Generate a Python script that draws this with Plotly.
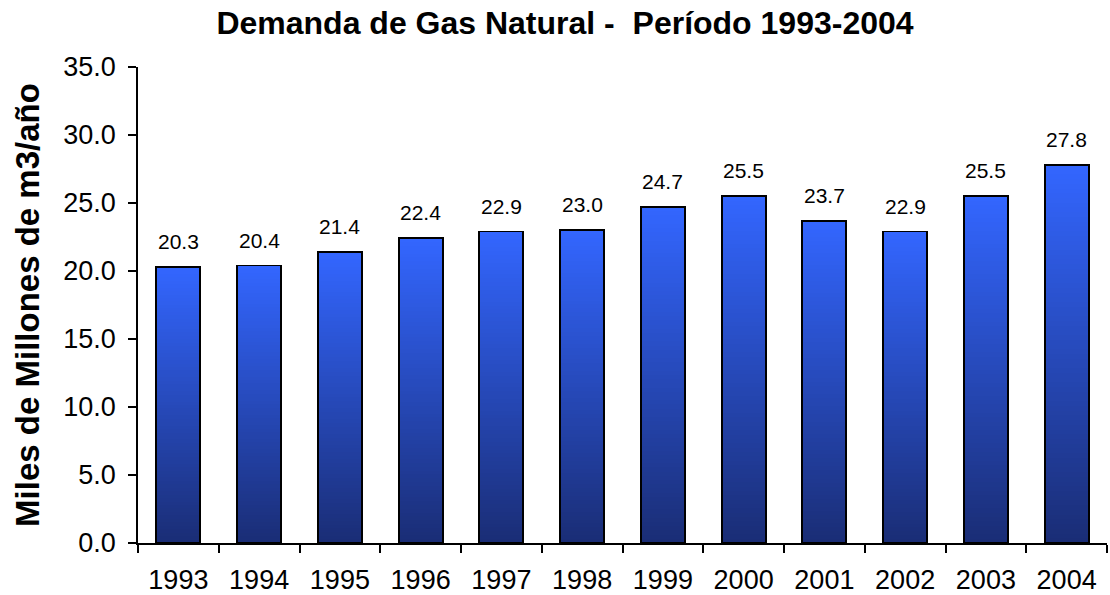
import plotly.graph_objects as go

years = ["1993", "1994", "1995", "1996", "1997", "1998", "1999", "2000", "2001", "2002", "2003", "2004"]
demand = [20.3, 20.4, 21.4, 22.4, 22.9, 23.0, 24.7, 25.5, 23.7, 22.9, 25.5, 27.8]
y_ticks = [0, 5, 10, 15, 20, 25, 30, 35]

title_text = "<b>Demanda de Gas Natural -  Período 1993-2004</b>"
y_title = "<b>Miles de Millones de m3/año</b>"

bottom_rgb = (26, 45, 117)
top_rgb = (51, 102, 255)
n_seg = 80

W, H = 1110, 595

fig = go.Figure()

for k in range(n_seg):
    t = (k + 0.5) / n_seg
    c = tuple(round(b + (tp - b) * t) for b, tp in zip(bottom_rgb, top_rgb))
    fig.add_trace(go.Bar(
        x=years, y=[v / n_seg for v in demand],
        marker=dict(color="rgb(%d,%d,%d)" % c, line=dict(width=0)),
        showlegend=False, hoverinfo="skip", xaxis="x", yaxis="y",
    ))

# outline of each bar
fig.add_trace(go.Bar(
    x=years, y=demand,
    marker=dict(color="rgba(0,0,0,0)", line=dict(color="black", width=1.8)),
    showlegend=False, xaxis="x2", yaxis="y",
    hovertemplate="%{x}: %{y:.1f}<extra></extra>",
))

for i, v in enumerate(demand):
    fig.add_annotation(x=i, y=v, xref="x", yref="y", text="%.1f" % v,
                       showarrow=False, yanchor="bottom", yshift=12,
                       font=dict(family="Arial, Liberation Sans", size=21, color="black"))

fig.update_layout(
    width=W, height=H,
    barmode="stack", bargap=0.455,
    paper_bgcolor="white", plot_bgcolor="white",
    margin=dict(l=138, r=3, t=67, b=52, autoexpand=False),
    title=dict(text=title_text, x=565 / W, xref="container", xanchor="center",
               y=1 - 23 / H, yref="container", yanchor="middle",
               font=dict(family="Arial, Liberation Sans", size=32, color="black")),
    font=dict(family="Arial, Liberation Sans", color="black"),
    xaxis=dict(type="category", categoryorder="array", categoryarray=years,
               range=[-0.5, 11.5], showline=True, linecolor="black", linewidth=1.5,
               ticks="outside", tickson="boundaries", ticklen=8, tickcolor="black",
               tickwidth=1.5, showgrid=False, zeroline=False, automargin=False,
               ticklabelstandoff=12,
               tickfont=dict(size=27), fixedrange=True),
    xaxis2=dict(type="category", categoryorder="array", categoryarray=years,
                range=[-0.5, 11.5], overlaying="x", visible=False, matches="x"),
    yaxis=dict(range=[0, 35], tickvals=y_ticks, tickformat=".1f", showline=True,
               linecolor="black", linewidth=1.5, ticks="outside", ticklen=8,
               tickcolor="black", tickwidth=1.5, showgrid=False, zeroline=False,
               automargin=False, ticklabelstandoff=7,
               tickfont=dict(size=27),
               title=dict(text=y_title, font=dict(size=33), standoff=14)),
)

fig.write_html("out.html", config={"displayModeBar": False},
               post_script="document.body.style.margin='0px';document.body.style.padding='0px';")
